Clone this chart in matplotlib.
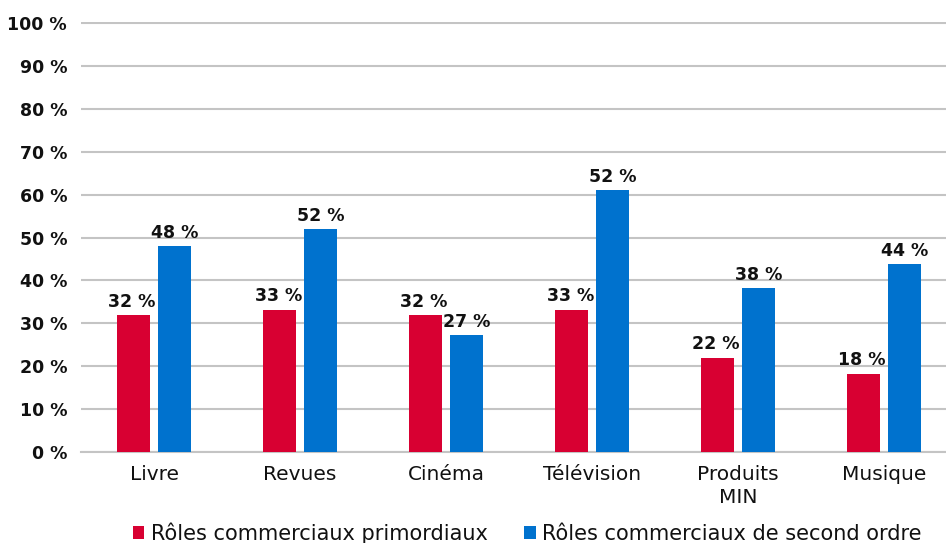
import matplotlib
matplotlib.use("Agg")
import matplotlib.pyplot as plt
import numpy as np

categories = ["Livre", "Revues", "Cinéma", "Télévision", "Produits\nMIN", "Musique"]
primary = [32, 33.2, 32, 33.2, 22, 18.3]
secondary = [48, 52, 27.2, 61, 38.2, 43.8]
primary_labels = ["32 %", "33 %", "32 %", "33 %", "22 %", "18 %"]
secondary_labels = ["48 %", "52 %", "27 %", "52 %", "38 %", "44 %"]
series_names = ["Rôles commerciaux primordiaux", "Rôles commerciaux de second ordre"]
yticks = [0, 10, 20, 30, 40, 50, 60, 70, 80, 90, 100]

red = "#D80032"
blue = "#0072CE"
plt.rcParams['font.family'] = ['DejaVu Sans']

fig = plt.figure(figsize=(9.46, 5.43), dpi=100)
ax = fig.add_axes([81/946, 91/543, 876/946, 430/543])

x = np.arange(len(categories))
w = 0.226
off = 0.14
b1 = ax.bar(x - off, primary, w, color=red, label=series_names[0], zorder=3)
b2 = ax.bar(x + off, secondary, w, color=blue, label=series_names[1], zorder=3)

for rect, lab in zip(b1, primary_labels):
    ax.annotate(lab, (rect.get_x() + rect.get_width()/2, rect.get_height()),
                xytext=(-1, 3), textcoords="offset points", ha="center", va="bottom",
                fontsize=12.5, fontweight="bold", color="#111111")
for rect, lab in zip(b2, secondary_labels):
    ax.annotate(lab, (rect.get_x() + rect.get_width()/2, rect.get_height()),
                xytext=(0, 3), textcoords="offset points", ha="center", va="bottom",
                fontsize=12.5, fontweight="bold", color="#111111")

ax.set_xlim(-0.5, len(categories) - 0.5)
ax.set_ylim(0, 100.25)
ax.set_yticks(yticks)
ax.set_yticklabels([f"{t} %" for t in yticks], fontsize=12.5, fontweight="bold", color="#111111")
ax.set_xticks(x)
ax.set_xticklabels(categories, fontsize=14.5, color="#111111", linespacing=1.3)
ax.tick_params(axis="both", length=0)
ax.tick_params(axis="y", pad=10)
ax.tick_params(axis="x", pad=9)
ax.yaxis.grid(True, color="#c4c4c4", linewidth=1.5, zorder=0)
ax.set_axisbelow(True)
for s in ["top", "right", "left"]:
    ax.spines[s].set_visible(False)
ax.spines["bottom"].set_color("#c4c4c4")
ax.spines["bottom"].set_linewidth(1.5)

leg = fig.legend(handles=[b1, b2], labels=series_names, loc="center left",
                 bbox_to_anchor=(133/946, 10/543), ncol=2, frameon=False,
                 fontsize=15, handlelength=0.55, handleheight=0.55, handletextpad=0.3,
                 columnspacing=1.75, borderaxespad=0, borderpad=0)
for t in leg.get_texts():
    t.set_color("#111111")

fig.savefig("out.png", dpi=100)
